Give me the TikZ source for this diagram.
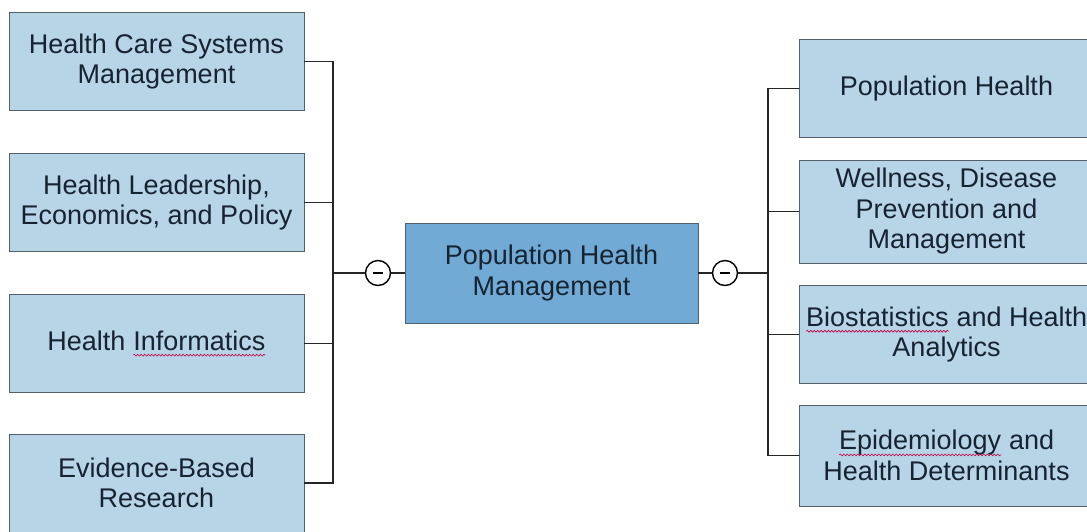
\documentclass[tikz,border=0pt]{standalone}
\usepackage{fontspec}
\setmainfont{Liberation Sans}
\usetikzlibrary{decorations.pathmorphing}
\definecolor{boxblue}{RGB}{184,212,231}
\definecolor{midblue}{RGB}{114,170,214}
\definecolor{boxline}{RGB}{85,95,105}
\definecolor{ink}{RGB}{22,36,50}
\newcommand{\spellmark}[1]{\tikz[baseline=(w.base)]{\node[draw=none,fill=none,minimum width=0pt,minimum height=0pt,inner sep=0pt,outer sep=0pt] (w) {#1};\draw[red!75!blue,line width=0.6pt,decorate,decoration={snake,amplitude=0.9pt,segment length=3.5pt}] ([yshift=-5pt]w.base west) -- ([yshift=-5pt]w.base east);}}

\begin{document}
\begin{tikzpicture}[x=1pt,y=-1pt,
  topic/.style={draw=boxline,fill=boxblue,line width=0.8pt,minimum width=295pt,minimum height=98pt,align=center,inner sep=2pt,text=ink,font=\fontsize{27}{30.5}\selectfont},
  hub/.style={topic,fill=midblue,minimum width=293pt,minimum height=100pt},
  toggle/.style={draw=black,circle,line width=1.4pt,minimum size=25pt,inner sep=0pt,fill=white},
  link/.style={draw=black!85,line width=1.3pt}]
\useasboundingbox (0,0) rectangle (1087,531);

\node[topic] (hcsm) at (156.5,61.5) {Health Care Systems\\Management};
\node[topic] (hlep) at (156.5,202.5) {Health Leadership,\\Economics, and Policy};
\node[topic] (hi) at (156.5,343.5) {Health \spellmark{Informatics}};
\node[topic] (ebr) at (156.5,483) {Evidence-Based\\Research};

\node[hub] (phm) at (551.5,273) {Population Health\\Management};
\node[toggle] (lc) at (378,273) {\rule{10pt}{2.6pt}};
\node[toggle] (rc) at (725,273) {\rule{10pt}{2.6pt}};

\node[topic] (ph) at (946.5,88.5) {Population Health};
\node[topic,minimum height=103pt] (wdpm) at (946.5,211.5) {Wellness, Disease\\Prevention and\\Management};
\node[topic] (bha) at (946.5,334.5) {\spellmark{Biostatistics} and Health\\Analytics};
\node[topic,minimum height=101pt] (ehd) at (946.5,455.5) {\spellmark{Epidemiology} and\\Health Determinants};

\coordinate (lbus) at (333,273);
\coordinate (rbus) at (768,273);

\draw[link] (hcsm.east) -| (lbus);
\draw[link] (hlep.east) -| (lbus);
\draw[link] (hi.east) -| (lbus);
\draw[link] (ebr.east) -| (lbus);
\draw[link] (lbus) -- (lc);
\draw[link] (lc) -- (phm);
\draw[link] (phm) -- (rc);
\draw[link] (rc) -- (rbus);
\draw[link] (rbus) |- (ph.west);
\draw[link] (rbus) |- (wdpm.west);
\draw[link] (rbus) |- (bha.west);
\draw[link] (rbus) |- (ehd.west);
\end{tikzpicture}
\end{document}
